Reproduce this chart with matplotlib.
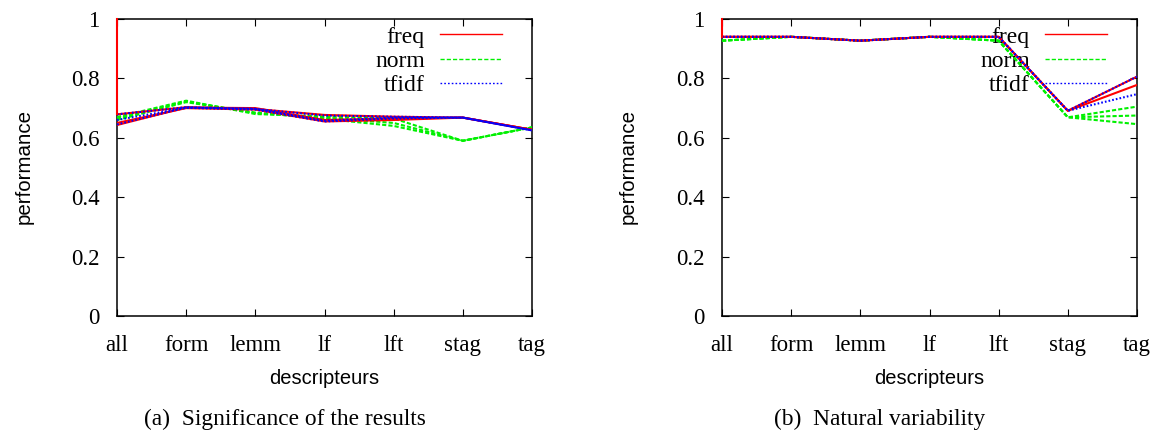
import matplotlib
matplotlib.use("Agg")
import matplotlib.pyplot as plt
from matplotlib.lines import Line2D

plt.rcParams['lines.scale_dashes'] = False

categories = ["all", "form", "lemm", "lf", "lft", "stag", "tag"]
yticks = [0, 0.2, 0.4, 0.6, 0.8, 1]
ytick_labels = ["0", "0.2", "0.4", "0.6", "0.8", "1"]

# (a) Significance of the results
a_freq = [
    [0.679, 0.703, 0.697, 0.677, 0.671, 0.668, 0.627],
    [0.650, 0.700, 0.695, 0.655, 0.660, 0.668, 0.627],
    [0.643, 0.702, 0.700, 0.660, 0.665, 0.668, 0.627],
]
a_norm = [
    [0.670, 0.725, 0.680, 0.672, 0.665, 0.590, 0.635],
    [0.665, 0.722, 0.683, 0.668, 0.650, 0.590, 0.635],
    [0.660, 0.720, 0.685, 0.664, 0.640, 0.590, 0.635],
]
a_tfidf = [
    [0.679, 0.703, 0.697, 0.675, 0.671, 0.668, 0.625],
    [0.660, 0.701, 0.695, 0.655, 0.665, 0.668, 0.625],
    [0.645, 0.702, 0.698, 0.658, 0.668, 0.668, 0.625],
]
a_start = [1.0, 0.679]

# (b) Natural variability
b_freq = [
    [0.940, 0.940, 0.927, 0.940, 0.940, 0.691, 0.806],
    [0.940, 0.940, 0.927, 0.940, 0.940, 0.691, 0.778],
]
b_norm = [
    [0.927, 0.940, 0.927, 0.940, 0.927, 0.669, 0.705],
    [0.927, 0.940, 0.927, 0.940, 0.927, 0.669, 0.675],
    [0.927, 0.940, 0.927, 0.940, 0.927, 0.669, 0.646],
]
b_tfidf = [
    [0.940, 0.940, 0.927, 0.940, 0.940, 0.691, 0.806],
    [0.940, 0.940, 0.927, 0.940, 0.940, 0.691, 0.747],
]
b_start = [1.0, 0.940]

captions = ["(a)  Significance of the results", "(b)  Natural variability"]

SERIF = "Liberation Serif"
SANS = "Liberation Sans"
RED, GREEN, BLUE = "#ff0000", "#00f000", "#0000ff"
LW = 1.5
DASH_G = (3.0, 1.5)
DASH_B = (1.2, 1.5)

W, H = 1152, 433
fig = plt.figure(figsize=(W / 100, H / 100), dpi=100)

def px_axes(x0, x1, y0, y1):
    return fig.add_axes([x0 / W, 1 - y1 / H, (x1 - x0) / W, (y1 - y0) / H])

axA = px_axes(117, 532, 19, 316)
axB = px_axes(722, 1137, 19, 316)

def draw(ax, freq, norm, tfidf, start, ylab_x, cap_x, caption):
    xs = list(range(len(categories)))
    for ys in norm:
        ax.plot(xs, ys, color=GREEN, lw=LW, dashes=DASH_G, zorder=3)
    for ys in freq:
        ax.plot(xs, ys, color=RED, lw=LW, zorder=4)
    for ys in tfidf:
        ax.plot(xs, ys, color=BLUE, lw=LW, dashes=DASH_B, zorder=5)
    ax.plot([0, 0], start, color=RED, lw=LW, zorder=6, clip_on=False)

    ax.set_xlim(0, len(categories) - 1)
    ax.set_ylim(0, 1)
    ax.set_xticks(xs)
    ax.set_xticklabels(categories, fontfamily=SERIF, fontsize=16.5)
    ax.set_yticks(yticks)
    ax.set_yticklabels(ytick_labels, fontfamily=SERIF, fontsize=16.5)
    ax.tick_params(direction="in", length=5, width=0.8, top=True, right=True)
    ax.tick_params(axis="x", pad=13.5)
    ax.tick_params(axis="y", pad=12.5)
    for s in ax.spines.values():
        s.set_linewidth(1.1)
        s.set_zorder(2)

    handles = [
        Line2D([], [], color=RED, lw=1.0),
        Line2D([], [], color=GREEN, lw=1.0, dashes=DASH_G),
        Line2D([], [], color=BLUE, lw=1.0, dashes=DASH_B),
    ]
    leg = ax.legend(handles, ["freq", "norm", "tfidf"], loc="upper right",
                    bbox_to_anchor=(1 - 30 / 415, 1 - 7 / 297),
                    frameon=False, markerfirst=False,
                    prop={"family": SERIF, "size": 17},
                    handlelength=2.63, handletextpad=0.64, labelspacing=0.12,
                    borderpad=0.0, borderaxespad=0.0)
    leg.set_zorder(1)

    fig.text(ylab_x / W, 1 - 167 / H, "performance", rotation=90,
             ha="center", va="center", fontfamily=SANS, fontsize=14.8)
    bb = ax.get_position()
    fig.text((bb.x0 + bb.x1) / 2, 1 - 379 / H, "descripteurs",
             ha="center", va="center", fontfamily=SANS, fontsize=14.5)
    fig.text(cap_x / W, 1 - 419 / H, caption, ha="center", va="center",
             fontfamily=SERIF, fontsize=16.8)

draw(axA, a_freq, a_norm, a_tfidf, a_start, 24, 285, captions[0])
draw(axB, b_freq, b_norm, b_tfidf, b_start, 628, 880, captions[1])

fig.savefig("out.png", dpi=100)
